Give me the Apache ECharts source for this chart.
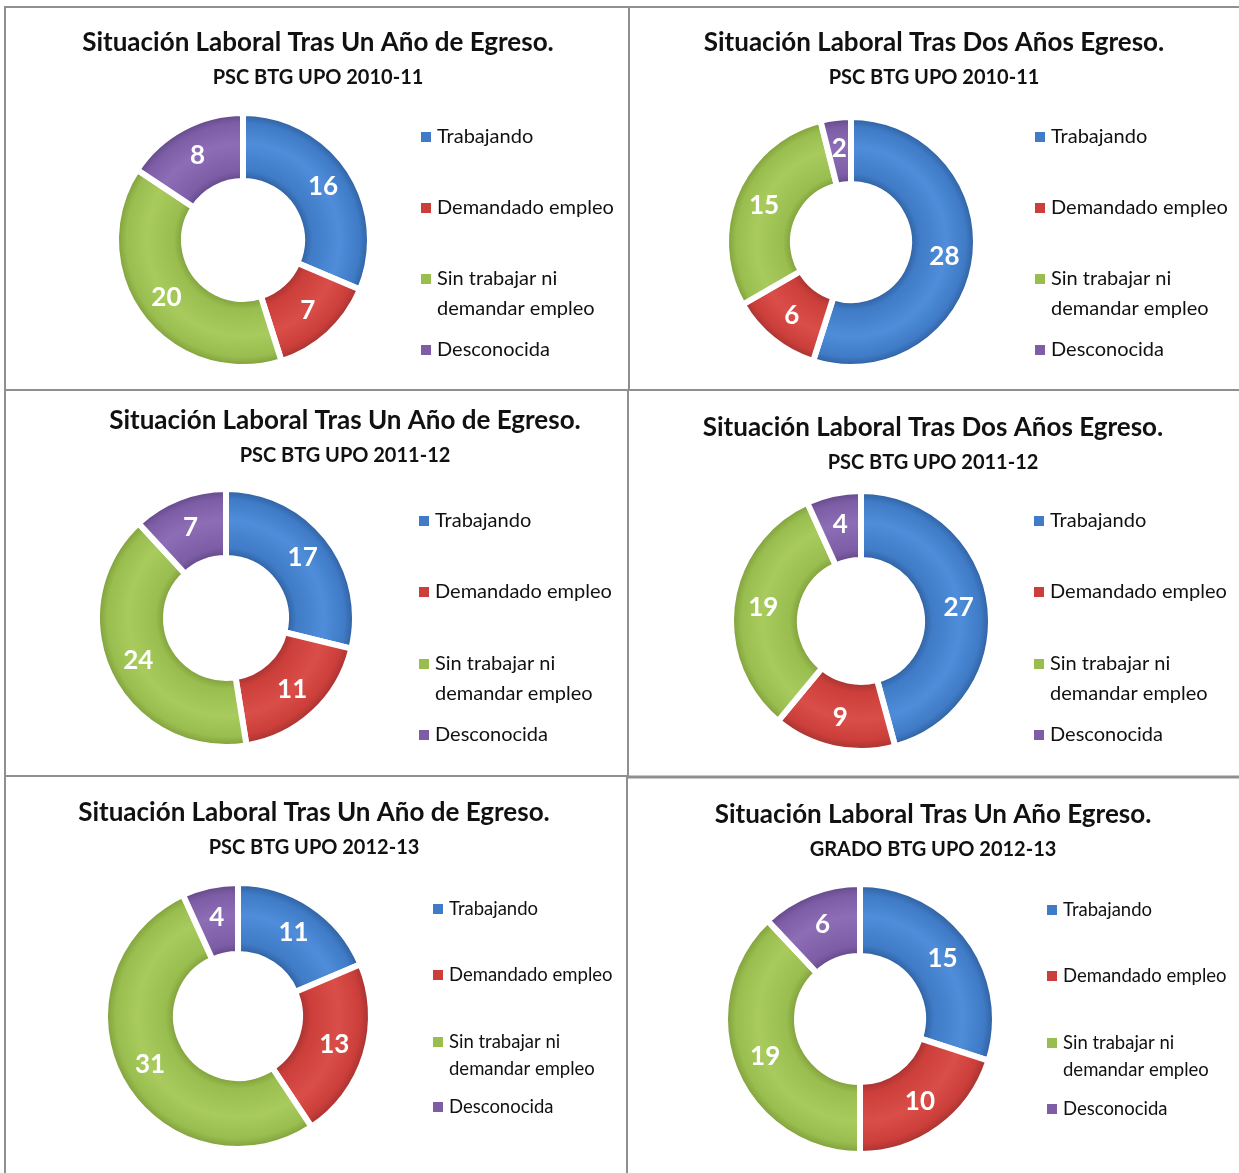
<!DOCTYPE html>
<html>
<head>
<meta charset="utf-8">
<script src="https://cdn.jsdelivr.net/npm/echarts@6/dist/echarts.min.js"></script>
<style>
html,body{margin:0;padding:0;background:#fff;}
#chart{width:1239px;height:1173px;}
</style>
</head>
<body>
<div id="chart"></div>
<script>
// ---- DATA ----
const categories = ['Trabajando', 'Demandado empleo', 'Sin trabajar ni demandar empleo', 'Desconocida'];
const titles = [
  'Situación Laboral Tras Un Año de Egreso.',
  'Situación Laboral Tras Dos Años Egreso.',
  'Situación Laboral Tras Un Año de Egreso.',
  'Situación Laboral Tras Dos Años Egreso.',
  'Situación Laboral Tras Un Año de Egreso.',
  'Situación Laboral Tras Un Año Egreso.'
];
const subtitles = [
  'PSC BTG UPO 2010-11',
  'PSC BTG UPO 2010-11',
  'PSC BTG UPO 2011-12',
  'PSC BTG UPO 2011-12',
  'PSC BTG UPO 2012-13',
  'GRADO BTG UPO 2012-13'
];
const psc1011UnAno = [16, 7, 20, 8];
const psc1011DosAnos = [28, 6, 15, 2];
const psc1112UnAno = [17, 11, 24, 7];
const psc1112DosAnos = [27, 9, 19, 4];
const psc1213UnAno = [11, 13, 31, 4];
const grado1213UnAno = [15, 10, 19, 6];
const panelValues = [psc1011UnAno, psc1011DosAnos, psc1112UnAno, psc1112DosAnos, psc1213UnAno, grado1213UnAno];

// ---- LAYOUT / STYLE ----
const layout = [
  {tx: 318, ty: 43, sy: 78, cx: 243, cy: 240, r: 124, legX: 419, legY: [137, 208, 279, 350], fs: 20, lh: 30},
  {tx: 934, ty: 43, sy: 78, cx: 851, cy: 242, r: 122, legX: 1033, legY: [137, 208, 279, 350], fs: 20, lh: 30},
  {tx: 345, ty: 421, sy: 456, cx: 226, cy: 618, r: 126, legX: 417, legY: [521, 592, 664, 735], fs: 20, lh: 30},
  {tx: 933, ty: 428, sy: 463, cx: 861, cy: 621, r: 127, legX: 1032, legY: [521, 592, 664, 735], fs: 20, lh: 30},
  {tx: 314, ty: 813, sy: 848, cx: 238, cy: 1016, r: 130, legX: 431, legY: [909, 975, 1042, 1107], fs: 18.5, lh: 27},
  {tx: 933, ty: 815, sy: 849, cx: 860, cy: 1019, r: 132, legX: 1045, legY: [910, 976, 1043, 1109], fs: 18.5, lh: 27}
];
const palette = [
  {base: '#3F7BC6', light: '#4F8DDA', dark: '#2D5C9A'},
  {base: '#CB3E3A', light: '#DA4E49', dark: '#A03230'},
  {base: '#99BD4E', light: '#A9CB5E', dark: '#7C9B3A'},
  {base: '#7D5EA6', light: '#8D6EB6', dark: '#614686'}
];
const FONT = 'Lato';
const GAP = 6;

function ringGradient(c, L, ri, ro) {
  const s = ri / ro;
  return {
    type: 'radial', x: L.cx, y: L.cy, r: ro, global: true,
    colorStops: [
      {offset: 0, color: c.dark},
      {offset: s, color: c.dark},
      {offset: s + (1 - s) * 0.15, color: c.base},
      {offset: s + (1 - s) * 0.55, color: c.light},
      {offset: s + (1 - s) * 0.85, color: c.base},
      {offset: 1, color: c.dark}
    ]
  };
}

const title = [], legend = [], series = [];
layout.forEach((L, p) => {
  title.push({
    text: titles[p], subtext: subtitles[p],
    left: L.tx, top: L.ty - 16, textAlign: 'center', padding: 0, itemGap: 6,
    textStyle: {fontFamily: FONT, fontWeight: 'bold', fontSize: 26, lineHeight: 32, color: '#111'},
    subtextStyle: {fontFamily: FONT, fontWeight: 'bold', fontSize: 20, lineHeight: 26, color: '#111'}
  });
  categories.forEach((name, k) => {
    const twoLine = k === 2;
    legend.push({
      orient: 'vertical', left: L.legX,
      top: twoLine ? L.legY[k] - 1.5 * L.lh : L.legY[k] - L.lh / 2,
      padding: 0, itemWidth: 12, itemHeight: 12, icon: 'rect', selectedMode: false,
      data: [{name: name, itemStyle: {color: palette[k].base}}],
      formatter: n => n === categories[2] ? '\nSin trabajar ni\ndemandar empleo' : n,
      textStyle: {fontFamily: FONT, fontSize: L.fs, lineHeight: L.lh, color: '#111'}
    });
  });
  const ri = Math.round(L.r * 0.5);
  series.push({
    type: 'pie', center: [L.cx, L.cy], radius: [ri - GAP / 2, L.r + GAP / 2],
    startAngle: 90, clockwise: true, silent: true,
    label: {show: true, position: 'inside', formatter: '{c}', color: '#fff',
      fontFamily: FONT, fontWeight: 'bold', fontSize: 26},
    labelLine: {show: false},
    itemStyle: {borderColor: '#fff', borderWidth: GAP},
    data: categories.map((name, k) => ({
      name: name, value: panelValues[p][k],
      itemStyle: {color: ringGradient(palette[k], L, ri - GAP / 2, L.r + GAP / 2)}
    }))
  });
});

const lineStyle = w => ({stroke: '#8f8f8f', lineWidth: w});
const borders = [
  [5, 7, 1239, 7, 2], [5, 6, 5, 1173, 2], [629, 7, 629, 390, 2], [5, 390, 1239, 390, 2],
  [628, 390, 628, 777, 2], [5, 776, 628, 776, 2], [628, 777, 1239, 777, 3], [627, 777, 627, 1173, 2]
];
const graphic = borders.map(b => ({
  type: 'line', shape: {x1: b[0], y1: b[1], x2: b[2], y2: b[3]}, style: lineStyle(b[4]), silent: true
}));

const chart = echarts.init(document.getElementById('chart'));
chart.setOption({animation: false, backgroundColor: '#fff', title, legend, series, graphic});
</script>
</body>
</html>
